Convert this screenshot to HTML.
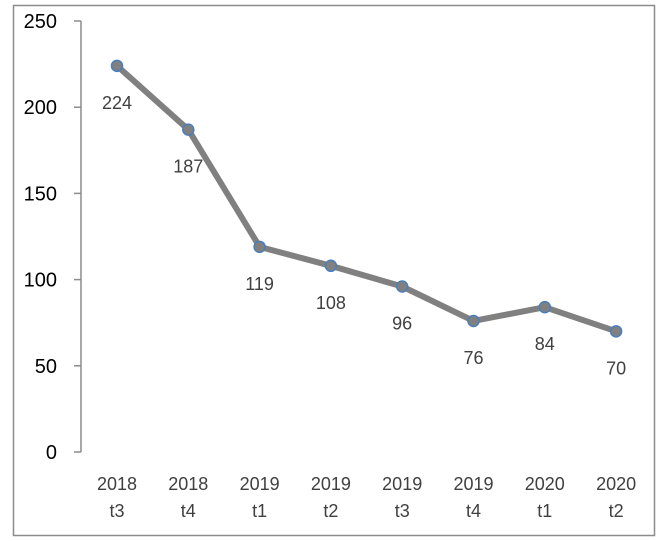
<!DOCTYPE html>
<html><head><meta charset="utf-8"><style>
body{margin:0;background:#fff;}
svg{display:block;font-family:"Liberation Sans",Calibri,sans-serif;}
</style></head><body>
<svg id="chart" width="657" height="541">
<rect x="13.5" y="5.5" width="641" height="530" fill="#fff" stroke="#8c8c8c" stroke-width="1.5"/>
<g id="yaxis"></g>
<g id="xaxis"></g>
<g id="series"></g>
</svg>
<script>
const categories=[["2018","t3"],["2018","t4"],["2019","t1"],["2019","t2"],["2019","t3"],["2019","t4"],["2020","t1"],["2020","t2"]];
const values=[224,187,119,108,96,76,84,70];
const yTicks=[0,50,100,150,200,250];
const NS="http://www.w3.org/2000/svg";
function el(t,a,p){const e=document.createElementNS(NS,t);for(const k in a)e.setAttribute(k,a[k]);p.appendChild(e);return e;}
const y=v=>452-v*(431/250);
const x=i=>117+i*71.3;
const ya=document.getElementById('yaxis'),xa=document.getElementById('xaxis'),sg=document.getElementById('series');
const ax=el('line',{x1:81,y1:y(250),x2:81,y2:y(0),stroke:'#8c8c8c','stroke-width':1.5},ya);


yTicks.forEach(t=>{
 const tk=el('line',{x1:74,y1:y(t),x2:81,y2:y(t),stroke:'#8c8c8c','stroke-width':1.5},ya);
 
 
 const tx=el('text',{x:57,y:y(t)+7,'text-anchor':'end','font-size':20,fill:'#000'},ya);
 tx.textContent=t;
 
 
});
categories.forEach((c,i)=>{
 const tx=el('text',{x:x(i),'text-anchor':'middle','font-size':18,fill:'#404040'},xa);
 
 
 const a=el('tspan',{x:x(i),y:490},tx);a.textContent=c[0];
 const b=el('tspan',{x:x(i),y:517},tx);b.textContent=c[1];
});
const pl=el('polyline',{points:values.map((v,i)=>x(i)+','+y(v)).join(' '),fill:'none',stroke:'#808080','stroke-width':6,'stroke-linejoin':'round'},sg);


values.forEach((v,i)=>{
 const c=el('circle',{cx:x(i),cy:y(v),r:5.5,fill:'#808080',stroke:'#4a7ebb','stroke-width':1.5},sg);
 
 
 const t=el('text',{x:x(i),y:y(v)+43,'text-anchor':'middle','font-size':18,fill:'#404040'},sg);
 t.textContent=v;
 
 
});
</script>
</body></html>
